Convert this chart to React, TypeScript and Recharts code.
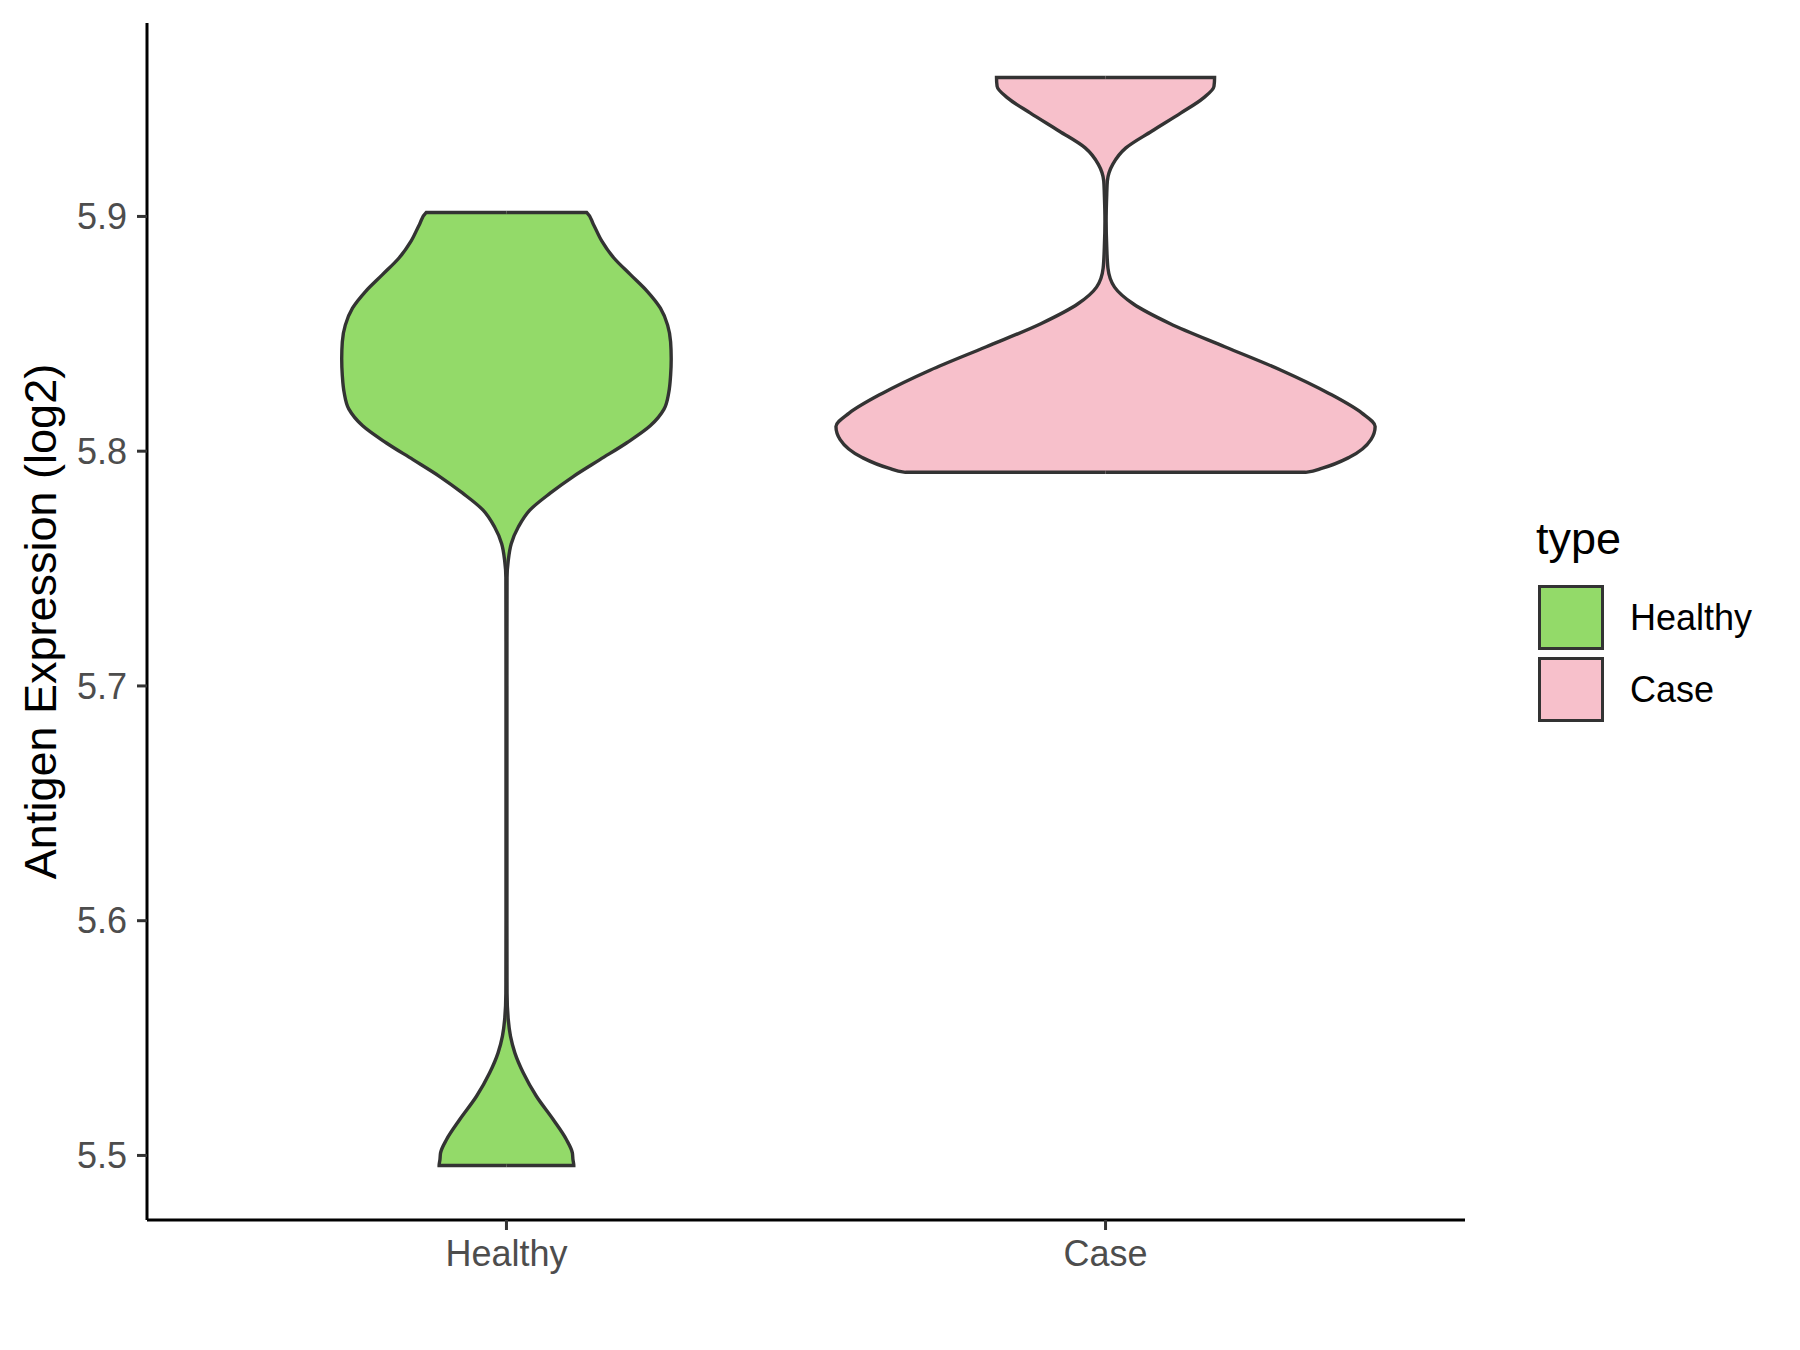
import React from "react";
import { ComposedChart, Area, XAxis, YAxis, Legend } from "recharts";

const FONT = "'Liberation Sans', Arial, Helvetica, sans-serif";

const categories = ["Healthy", "Case"];
const fills = ["#93DA69", "#F7C0CB"];
const outline = "#333333";

// violin outline: expression level and half width (category units)
const healthyY = [
	5.4957, 5.4983, 5.5011, 5.5068, 5.5153, 5.5252, 5.5352, 5.5437, 5.5508, 5.5579,
	5.5692, 5.6, 5.65, 5.7, 5.7463, 5.7534, 5.7606, 5.7678, 5.7749, 5.7821,
	5.7893, 5.7964, 5.8036, 5.8108, 5.8179, 5.8251, 5.8323, 5.8394, 5.8466, 5.8537,
	5.8609, 5.8681, 5.8752, 5.8824, 5.8896, 5.8967, 5.9017,
];
const healthyHalf = [
	0.1124, 0.111, 0.11, 0.1, 0.078, 0.05, 0.028, 0.014, 0.0067, 0.003,
	0.001, 0.0008, 0.0008, 0.0008, 0.001, 0.003, 0.008, 0.02, 0.039, 0.073,
	0.112, 0.156, 0.201, 0.24, 0.263, 0.271, 0.274, 0.275, 0.274, 0.269,
	0.257, 0.235, 0.207, 0.179, 0.159, 0.145, 0.134,
];

const caseY = [
	5.791, 5.7928, 5.7974, 5.8049, 5.8105, 5.8162, 5.8246, 5.8345, 5.8444, 5.8543,
	5.8628, 5.8699, 5.878, 5.887, 5.898, 5.9094, 5.9151, 5.9222, 5.9292, 5.9363,
	5.9441, 5.9504, 5.9554, 5.9592,
];
const caseHalf = [
	0.334, 0.362, 0.407, 0.443, 0.45, 0.428, 0.373, 0.293, 0.2, 0.108,
	0.046, 0.015, 0.004, 0.002, 0.001, 0.002, 0.003, 0.012, 0.034, 0.077,
	0.126, 0.163, 0.181, 0.182,
];

const yTicks = [5.5, 5.6, 5.7, 5.8, 5.9];
const yDomain = [5.4725, 5.9824];
const xDomain = [0.4, 2.6];

const keys = ["healthy", "case"];
const violins = [
	{ ys: healthyY, halves: healthyHalf },
	{ ys: caseY, halves: caseHalf },
];

// one row per outline point, the other violin's column left empty
const rows: any[] = [];
violins.forEach((v, vi) => {
	const center = vi + 1;
	const blank = () => {
		const r: any = {};
		keys.forEach((k) => (r[k] = [null, null]));
		return r;
	};
	const last = v.ys.length - 1;
	const start = blank();
	start.y = v.ys[0];
	start[keys[vi]] = [center, center];
	rows.push(start);
	v.ys.forEach((y, i) => {
		const r = blank();
		r.y = y;
		r[keys[vi]] = [center - v.halves[i], center + v.halves[i]];
		rows.push(r);
	});
	const end = blank();
	end.y = v.ys[last];
	end[keys[vi]] = [center, center];
	rows.push(end);
});

const renderLegend = () => (
	<div style={{ position: "relative", width: 250, height: 230, fontFamily: FONT }}>
		<div
			style={{
				position: "absolute",
				left: 0,
				top: 8,
				fontSize: 45,
				lineHeight: "45px",
				color: "#000",
			}}
		>
			type
		</div>
		{categories.map((c, i) => (
			<React.Fragment key={c}>
				<div
					style={{
						position: "absolute",
						left: 2,
						top: 77 + i * 72,
						width: 66,
						height: 65,
						boxSizing: "border-box",
						border: `3.5px solid ${outline}`,
						background: fills[i],
					}}
				/>
				<div
					style={{
						position: "absolute",
						left: 94,
						top: 77 + i * 72 + 15,
						fontSize: 36,
						lineHeight: "36px",
						color: "#000",
						whiteSpace: "nowrap",
					}}
				>
					{c}
				</div>
			</React.Fragment>
		))}
	</div>
);

export default function App() {
	const tickStyle = { fill: "#4D4D4D", fontSize: 36, fontFamily: FONT };
	return (
		<div style={{ width: 1784, height: 1334, fontFamily: FONT }}>
			<ComposedChart
				width={1784}
				height={1334}
				data={rows}
				layout="vertical"
				margin={{ top: 15, right: 327, bottom: 42, left: 0 }}
			>
				<XAxis
					type="number"
					domain={xDomain}
					ticks={[1, 2]}
					allowDataOverflow
					tickFormatter={(v: number) => categories[v - 1]}
					tick={tickStyle}
					tickSize={10}
					tickMargin={10}
					height={80}
					axisLine={{ stroke: "#000", strokeWidth: 3 }}
					tickLine={{ stroke: outline, strokeWidth: 3 }}
				/>
				<YAxis
					type="number"
					dataKey="y"
					domain={yDomain}
					reversed
					ticks={yTicks}
					allowDataOverflow
					interval={0}
					tickFormatter={(v: number) => v.toFixed(1)}
					tick={tickStyle}
					tickSize={10}
					tickMargin={10}
					width={139}
					axisLine={{ stroke: "#000", strokeWidth: 3 }}
					tickLine={{ stroke: outline, strokeWidth: 3 }}
					label={{
						value: "Antigen Expression (log2)",
						angle: -90,
						position: "insideLeft",
						offset: 32,
						style: { textAnchor: "middle", fontSize: 45, fill: "#000", fontFamily: FONT },
					}}
				/>
				{keys.map((k, i) => (
					<Area
						key={k}
						dataKey={k}
						name={categories[i]}
						type="monotone"
						connectNulls
						fill={fills[i]}
						fillOpacity={1}
						stroke={outline}
						strokeWidth={3.4}
						dot={false}
						activeDot={false}
						isAnimationActive={false}
					/>
				))}
				<Legend
					layout="vertical"
					align="center"
					verticalAlign="middle"
					content={renderLegend}
					wrapperStyle={{ left: 1528, top: 500, width: 250 }}
				/>
			</ComposedChart>
		</div>
	);
}
